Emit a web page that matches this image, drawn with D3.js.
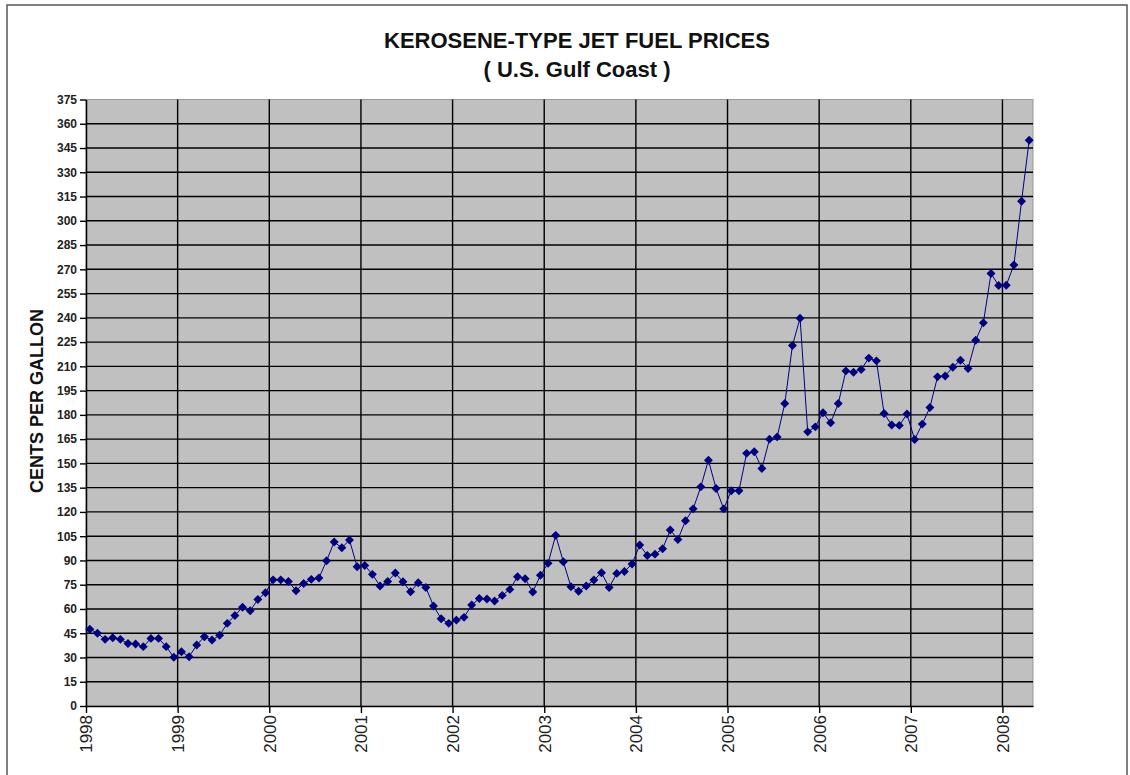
<!DOCTYPE html>
<html>
<head>
<meta charset="utf-8">
<script src="https://cdn.jsdelivr.net/npm/d3@7"></script>
<style>
  body { margin: 0; background: #fff; }
  text { font-family: "Liberation Sans", Arial, sans-serif; }
</style>
</head>
<body>
<div id="chart"></div>
<script>
// monthly prices, cents per gallon, Jan 1998 - Apr 2008
var years = ["1998", "1999", "2000", "2001", "2002", "2003", "2004", "2005", "2006", "2007", "2008"];
var yTicks = d3.range(0, 376, 15);
var prices = [
  47.5, 45, 41.2, 42.2, 41.2, 38.7, 38.3, 36.7, 41.8, 41.8, 36.7, 30.1,
  33.6, 30.5, 37.7, 42.8, 40.8, 43.7, 51.1, 56, 61, 58.9, 65.9, 70,
  78, 78, 77, 71.3, 75.8, 78.3, 79.1, 89.8, 101.4, 97.8, 102.6, 86.1,
  86.9, 81.4, 74.2, 77, 82.2, 76.8, 70.6, 76.2, 73.3, 61.8, 54, 51.1,
  53.1, 54.8, 62.4, 66.5, 66.1, 64.9, 68.4, 72.1, 79.9, 78.7, 70.5, 80.8,
  88.2, 105.5, 89.2, 73.7, 70.9, 74.2, 77.9, 82.4, 73.3, 82, 83.2, 87.8,
  99.5, 93.1, 93.9, 97.2, 108.8, 103, 114.5, 121.9, 135.5, 152, 134.5, 121.9,
  133.1, 133.1, 156.2, 157.2, 146.9, 165, 166.4, 187, 222.9, 239.8, 169.5, 172.6,
  181.3, 175.1, 187, 207.2, 206.4, 208.1, 215.1, 213.4, 180.9, 173.7, 173.5, 180.5,
  164.8, 174.3, 184.6, 203.5, 204.1, 209.5, 213.8, 208.7, 226.2, 236.9, 267.4, 260,
  260.2, 272.7, 312.1, 349.8
];

var W = 1130, H = 775;
var plotL = 86, plotR = 1033, plotT = 99.5, plotB = 706;

var svg = d3.select("#chart").append("svg")
  .attr("width", W)
  .attr("height", H);

// outer frame
svg.append("rect")
  .attr("x", 7).attr("y", 5)
  .attr("width", 1120).attr("height", 800)
  .attr("fill", "none")
  .attr("stroke", "#555")
  .attr("stroke-width", 1.5);

var x = d3.scaleLinear().domain([0, prices.length]).range([plotL, plotR]);
var y = d3.scaleLinear().domain([0, 375]).range([plotB, plotT]);

// plot background
svg.append("rect")
  .attr("x", plotL).attr("y", plotT)
  .attr("width", plotR - plotL).attr("height", plotB - plotT)
  .attr("fill", "#c0c0c0")
  .attr("stroke", "#999")
  .attr("stroke-width", 1);

// horizontal grid
svg.append("g")
  .selectAll("line").data(yTicks.slice(1, -1))
  .enter().append("line")
  .attr("x1", plotL).attr("x2", plotR)
  .attr("y1", d => y(d)).attr("y2", d => y(d))
  .attr("stroke", "#000")
  .attr("stroke-width", 1.4);

// vertical grid (one per year)
svg.append("g")
  .selectAll("line").data(years.slice(1))
  .enter().append("line")
  .attr("x1", (d, i) => x((i + 1) * 12)).attr("x2", (d, i) => x((i + 1) * 12))
  .attr("y1", plotT).attr("y2", plotB)
  .attr("stroke", "#000")
  .attr("stroke-width", 1.4);

// y axis
var yAxis = svg.append("g")
  .attr("transform", "translate(" + plotL + ",0)")
  .call(d3.axisLeft(y).tickValues(yTicks).tickSize(6).tickSizeOuter(0).tickPadding(3));
yAxis.select(".domain").attr("stroke", "#000").attr("stroke-width", 1.5);
yAxis.selectAll(".tick line").attr("stroke", "#000").attr("stroke-width", 1.4);
yAxis.selectAll("text")
  .style("font-size", "12px")
  .style("font-weight", "bold")
  .attr("fill", "#222");

// x axis
var xAxis = svg.append("g")
  .attr("transform", "translate(0," + plotB + ")")
  .call(d3.axisBottom(x)
    .tickValues(years.map((d, i) => i * 12))
    .tickFormat((d, i) => years[i])
    .tickSize(7)
    .tickSizeOuter(0));
xAxis.select(".domain").attr("stroke", "#000").attr("stroke-width", 1.5);
xAxis.selectAll(".tick line").attr("stroke", "#000").attr("stroke-width", 1.4);
xAxis.selectAll("text")
  .style("font-size", "17px")
  .attr("fill", "#222")
  .attr("text-anchor", "end")
  .attr("transform", "rotate(-90)")
  .attr("x", -9)
  .attr("y", 0)
  .attr("dy", "0.35em");

// price line
var line = d3.line()
  .x((d, i) => x(i + 0.5))
  .y(d => y(d));

svg.append("path")
  .datum(prices)
  .attr("d", line)
  .attr("fill", "none")
  .attr("stroke", "#000080")
  .attr("stroke-width", 1);

svg.append("g")
  .selectAll("path").data(prices)
  .enter().append("path")
  .attr("d", d3.symbol().type(d3.symbolSquare).size(40))
  .attr("transform", (d, i) => "translate(" + x(i + 0.5) + "," + y(d) + ") rotate(45)")
  .attr("fill", "#000080");

// titles
svg.append("text")
  .attr("x", 577).attr("y", 48)
  .attr("text-anchor", "middle")
  .style("font-size", "22px")
  .style("font-weight", "bold")
  .attr("fill", "#111")
  .text("KEROSENE-TYPE JET FUEL PRICES");

svg.append("text")
  .attr("x", 577).attr("y", 77)
  .attr("text-anchor", "middle")
  .style("font-size", "22px")
  .style("font-weight", "bold")
  .attr("fill", "#111")
  .text("( U.S. Gulf Coast )");

svg.append("text")
  .attr("transform", "translate(43,401) rotate(-90)")
  .attr("text-anchor", "middle")
  .style("font-size", "18px")
  .style("font-weight", "bold")
  .attr("fill", "#111")
  .text("CENTS PER GALLON");
</script>
</body>
</html>
